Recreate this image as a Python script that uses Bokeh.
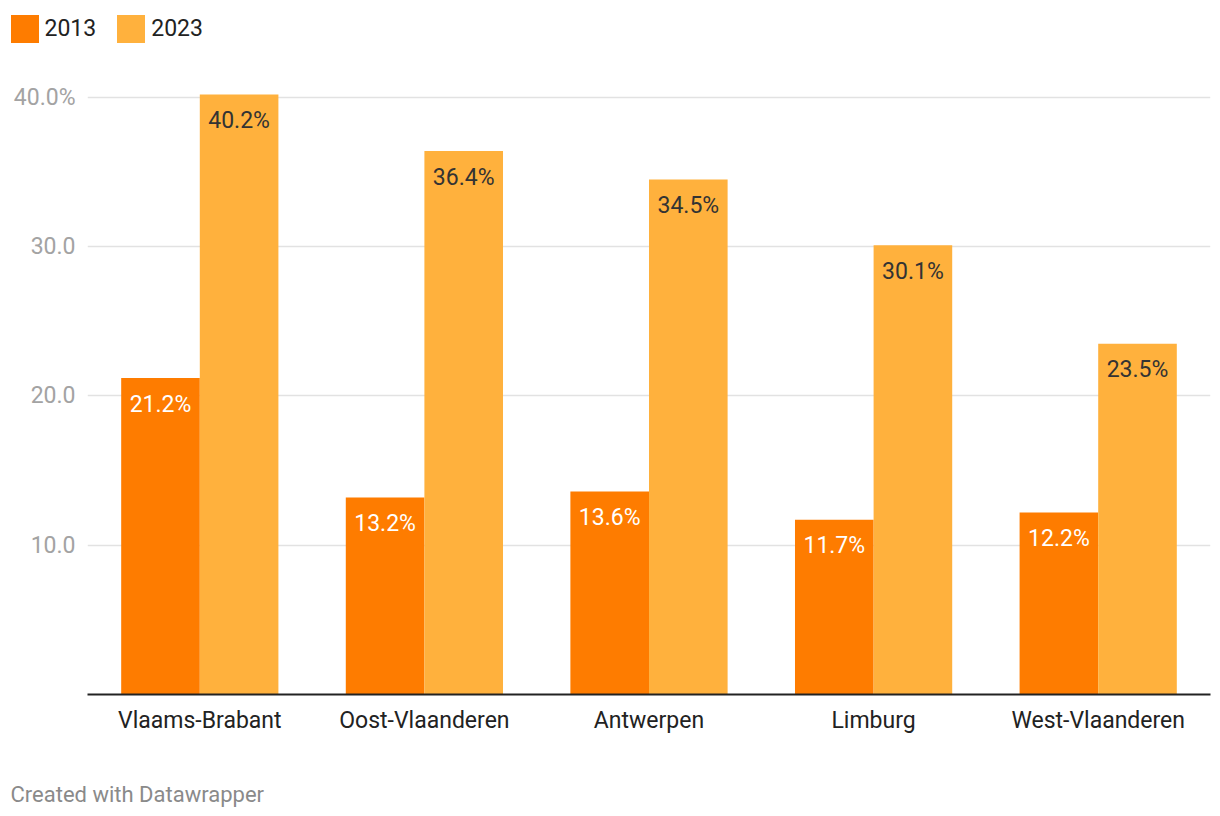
from bokeh.plotting import figure
from bokeh.models import ColumnDataSource, FactorRange, FixedTicker, Legend, LegendItem, Label
from bokeh.layouts import column
from bokeh.transform import dodge
from bokeh.core.properties import value
from bokeh.embed import file_html
from bokeh.resources import INLINE

provinces = ["Vlaams-Brabant", "Oost-Vlaanderen", "Antwerpen", "Limburg", "West-Vlaanderen"]
values_2013 = [21.2, 13.2, 13.6, 11.7, 12.2]
values_2023 = [40.2, 36.4, 34.5, 30.1, 23.5]
series_names = ["2013", "2023"]
y_ticks = [10, 20, 30, 40]
y_tick_labels = ["10.0", "20.0", "30.0", "40.0%"]
footer = "Created with Datawrapper"

C2013 = "#fe7c00"
C2023 = "#ffb13d"
FONT = "Roboto"
W = 1212


def strip(height):
    f = figure(width=W, height=height, x_range=(0, 1), y_range=(0, 1),
               output_backend="svg", toolbar_location=None,
               x_axis_location=None, y_axis_location=None,
               min_border_left=0, min_border_right=0, min_border_top=0, min_border_bottom=0)
    f.outline_line_color = None
    f.grid.grid_line_color = None
    f.frame_align = False
    return f


# ---------- legend strip ----------
lg = strip(56)
lr13 = lg.vbar(x=[5], top=[5], width=0.1, fill_color=C2013, line_color=None)
lr23 = lg.vbar(x=[5], top=[5], width=0.1, fill_color=C2023, line_color=None)
legend = Legend(
    items=[LegendItem(label=series_names[0], renderers=[lr13]),
           LegendItem(label=series_names[1], renderers=[lr23])],
    orientation="horizontal", location=(6.5, 10.5),
    glyph_width=35, glyph_height=35, label_height=35,
    label_text_font=FONT, label_text_font_size="23px", label_text_color="#222222",
    label_standoff=3, spacing=17, padding=0, margin=0,
    border_line_color=None, background_fill_alpha=0,
)
lg.add_layout(legend)

# ---------- main chart ----------
src = ColumnDataSource(dict(
    cat=provinces,
    v13=values_2013,
    v23=values_2023,
    l13=[f"{v:.1f}%" for v in values_2013],
    l23=[f"{v:.1f}%" for v in values_2023],
))

p = figure(
    width=W, height=686,
    x_range=FactorRange(*provinces, range_padding=0),
    y_range=(0, 41.8),
    output_backend="svg", toolbar_location=None,
    min_border_left=87, min_border_right=2, min_border_top=14, min_border_bottom=48,
)
p.frame_align = False
p.outline_line_color = None
p.background_fill_color = "white"
p.border_fill_color = "white"

r13 = p.vbar(x=dodge("cat", -0.175, range=p.x_range), top="v13", width=0.35, source=src,
             fill_color=C2013, line_color=None)
r23 = p.vbar(x=dodge("cat", 0.175, range=p.x_range), top="v23", width=0.35, source=src,
             fill_color=C2023, line_color=None)

p.text(x=dodge("cat", -0.175, range=p.x_range), y="v13", text="l13", source=src,
       text_font=value(FONT), text_font_size="23px", text_color="white",
       text_align="center", text_baseline="alphabetic", y_offset=26)
p.text(x=dodge("cat", 0.175, range=p.x_range), y="v23", text="l23", source=src,
       text_font=value(FONT), text_font_size="23px", text_color="#333333",
       text_align="center", text_baseline="alphabetic", y_offset=26)

ya = p.yaxis[0]
ya.ticker = FixedTicker(ticks=y_ticks)
ya.major_label_overrides = {t: l for t, l in zip(y_ticks, y_tick_labels)}
ya.axis_line_color = None
ya.major_tick_line_color = None
ya.minor_tick_line_color = None
ya.major_tick_out = 0
ya.major_label_standoff = 12
ya.major_label_text_font = FONT
ya.major_label_text_font_size = "23px"
ya.major_label_text_color = "#a3a3a3"

p.ygrid.ticker = FixedTicker(ticks=y_ticks)
p.ygrid.grid_line_color = "#e2e2e2"
p.ygrid.grid_line_width = 1.5
p.xgrid.grid_line_color = None

xa = p.xaxis[0]
xa.axis_line_color = "#222222"
xa.axis_line_width = 2
xa.major_tick_line_color = None
xa.minor_tick_line_color = None
xa.major_tick_out = 0
xa.major_label_text_font = FONT
xa.major_label_text_font_size = "23px"
xa.major_label_text_color = "#222222"
xa.major_label_standoff = 12

# ---------- footer strip ----------
ft = strip(70)
ft.add_layout(Label(x=10, y=18.5, x_units="screen", y_units="screen", text=footer,
                    text_font=FONT, text_font_size="22px", text_color="#8a8a8a",
                    text_align="left", text_baseline="alphabetic"))

layout = column(lg, p, ft, spacing=0)
open("out.html", "w").write(file_html(layout, INLINE))
